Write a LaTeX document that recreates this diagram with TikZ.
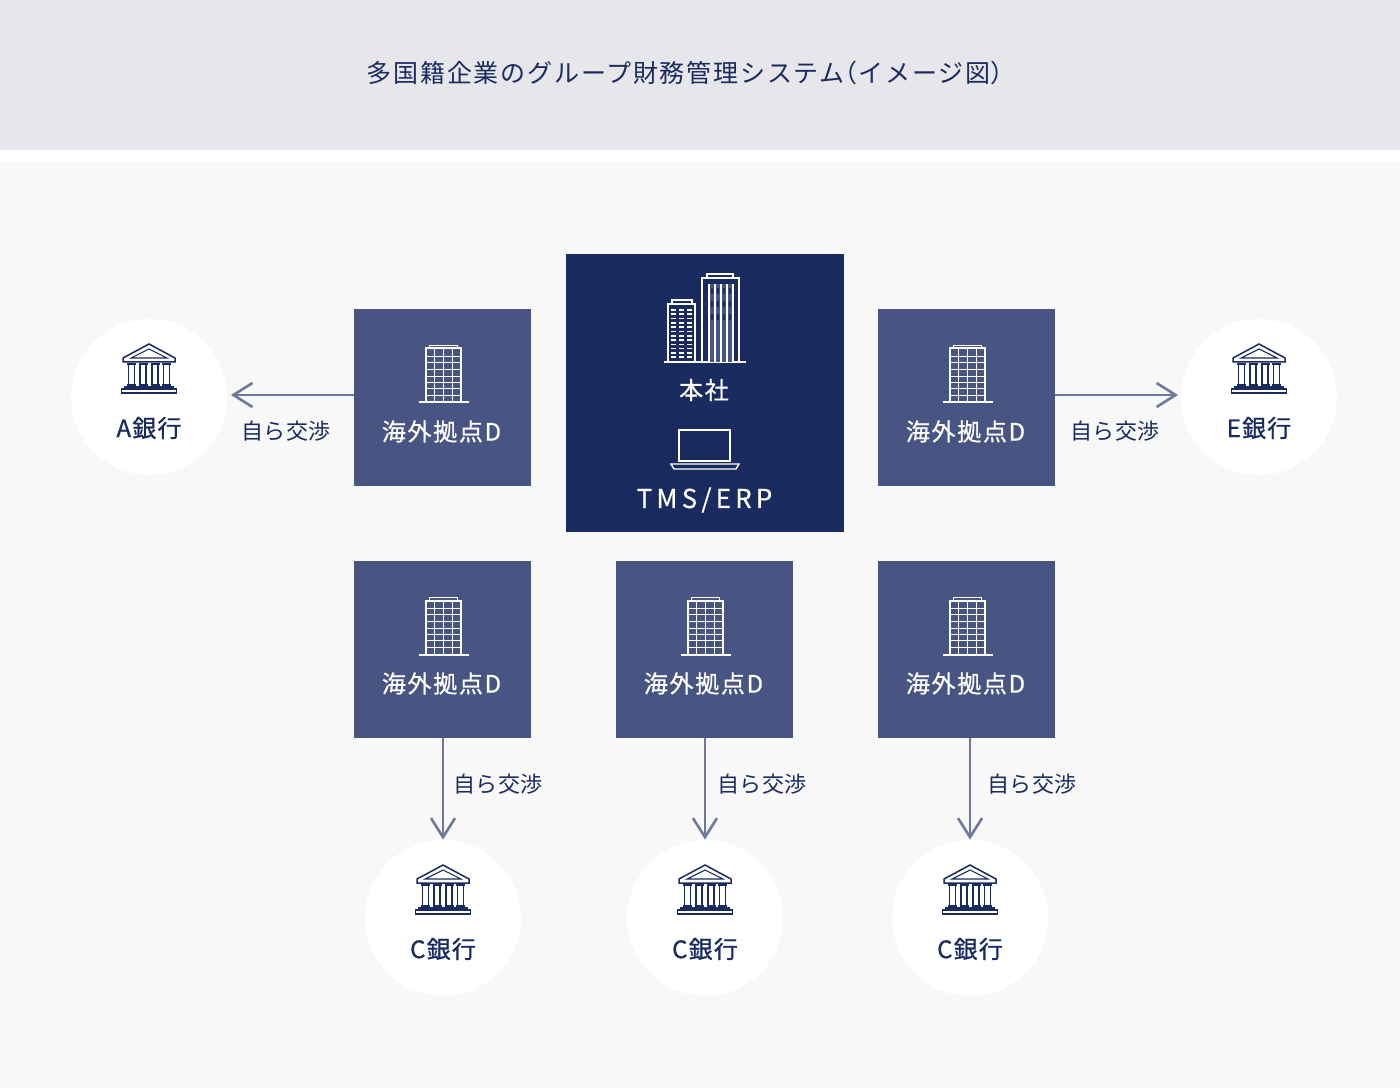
\documentclass[tikz,border=0pt]{standalone}
\usepackage{fontspec}
\setmainfont{Noto Sans CJK JP}
\usetikzlibrary{arrows.meta}
\definecolor{navy}{HTML}{1A2B60}
\definecolor{office}{HTML}{485583}
\definecolor{arrowgray}{HTML}{6F7A9A}
\definecolor{band}{HTML}{E6E6EB}
\definecolor{paper}{HTML}{F8F8F8}
\tikzset{
  officebox/.style={fill=office,minimum size=88.5pt,inner sep=0pt},
  bankdisc/.style={circle,fill=white,minimum size=78pt,inner sep=0pt},
  reachline/.style={draw=arrowgray,line width=1pt,-{Straight Barb[length=9.5pt,width=12pt,line width=1.3pt]}},
  boxlabel/.style={text=white,font=\fontsize{12}{12}\selectfont\addfontfeatures{LetterSpace=7,FakeBold=0.7}},
  banklabel/.style={text=navy,font=\fontsize{12}{12}\selectfont\addfontfeatures{LetterSpace=5,FakeBold=0.9}},
  talklabel/.style={text=navy,font=\fontsize{11}{11}\selectfont\addfontfeatures{LetterSpace=3}},
  pics/officeicon/.style={code={
    \draw[white,line width=1pt] (-25,28) -- (25,28);
    \draw[white,line width=1pt] (-17.5,28) rectangle (17.5,-26);
    \draw[white,line width=.8pt] (-14,-26) rectangle (14,-29);
    \foreach \gx in {-9,0,9} \draw[white,line width=.8pt] (\gx,-26) -- (\gx,28);
    \foreach \gy in {-18,-12,-5,2,8,14,21} \draw[white,line width=.8pt] (-17.5,\gy) -- (17.5,\gy);
  }},
  pics/bankicon/.style={code={
    \draw[navy,line width=.75pt] (-26,-11) -- (0,-25) -- (26,-11) -- (26,-7) -- (-26,-7) -- cycle;
    \draw[navy,line width=.55pt] (-18,-11) -- (0,-20) -- (18,-11) -- cycle;
    \foreach \cx in {-17.5,-6,6,17.5} {
      \draw[navy,line width=.6pt] ({\cx-3},-5) rectangle ({\cx+3},16);
      \draw[navy,line width=.7pt] ({\cx-4.5},-5) -- ({\cx+4.5},-5);
      \draw[navy,line width=.7pt] ({\cx-4.5},16) -- ({\cx+4.5},16);
    }
    \draw[navy,line width=.6pt] (-24,18) rectangle (24,20);
    \draw[navy,line width=.75pt] (-27.5,20) rectangle (27.5,24);
  }},
}
\begin{document}
\begin{tikzpicture}[x=.5pt,y=-.5pt]
  % Background
  \useasboundingbox (0,0) rectangle (1400,1090);
  \fill[white] (0,0) rectangle (1400,1090);
  \fill[band] (0,0) rectangle (1400,150);
  \fill[paper] (0,162) rectangle (1400,1088);
  \node[anchor=west,inner sep=0pt,text=navy,font=\fontsize{12.5}{12.5}\selectfont\addfontfeatures{LetterSpace=7.1}] (title) at (366.5,73) {多国籍企業のグループ財務管理システム{\addfontfeatures{RawFeature=+halt}（}\kern.6pt イメージ図\kern.4pt{\addfontfeatures{RawFeature=+halt}）}};

  % Head office
  \node[fill=navy,minimum size=139pt,inner sep=0pt] (head) at (705,393) {};
  \draw[white,line width=1pt] (664,362) -- (746,362);
  \draw[white,line width=1pt] (668,362) rectangle (695,304);
  \draw[white,line width=.8pt] (672,304) rectangle (692,300);
  \draw[white,line width=1pt] (702,362) rectangle (739,278);
  \draw[white,line width=.8pt] (707,278) rectangle (733,274);
  \fill[office] (708,284) rectangle (734,362);
  \foreach \tx in {709,715,721,727,733} \draw[white,line width=1pt] (\tx,284) -- (\tx,362);
  \foreach \gx in {712,718,724,730} {
    \foreach \gy in {288,301,314} \draw[navy,line width=1pt] (\gx,\gy) -- ++(0,6);
  }
  \foreach \ty in {310,314.3,318.6,322.9,327.2,331.5,335.8,340.1,344.4,348.7,353,357.3} \draw[white,line width=.8pt,dash pattern=on 2.7pt off 1.3pt] (671,\ty) -- (692,\ty);
  \node[text=white,font=\fontsize{12}{12}\selectfont\addfontfeatures{LetterSpace=7,FakeBold=0.7}] (headlabel) at (704,390) {本社};
  \draw[white,line width=1pt] (679,430) rectangle (730,461);
  \draw[white,line width=.7pt] (671,464) -- (739,464) -- (736,469) -- (674,469) -- cycle;
  \node[text=white,font=\fontsize{13}{13}\selectfont\addfontfeatures{LetterSpace=16,FakeBold=0.5}] (tms) at (704.5,500) {TMS/ERP};

  % Offices
  \node[officebox] (officeA) at (442.5,397.5) {};
  \node[officebox] (officeE) at (966.5,397.5) {};
  \node[officebox] (officeB) at (442.5,649.5) {};
  \node[officebox] (officeC) at (704.5,649.5) {};
  \node[officebox] (officeD) at (966.5,649.5) {};
  \foreach \o in {officeA,officeB,officeC,officeD,officeE} {
    \path (\o) ++(1,-23) pic {officeicon};
    \node[boxlabel] (\o label) at ([xshift=-.5pt,yshift=-17pt]\o) {海外拠点D};
  }

  % Banks
  \node[bankdisc] (bankA) at (149,397) {};
  \node[bankdisc] (bankE) at (1259,397) {};
  \node[bankdisc] (bankB) at (443,918) {};
  \node[bankdisc] (bankC) at (705,918) {};
  \node[bankdisc] (bankD) at (970,918) {};
  \foreach \b in {bankA,bankE,bankB,bankC,bankD} \path (\b) ++(0,-28) pic {bankicon};
  \node[banklabel] (labelA) at (149,428) {A銀行};
  \node[banklabel] (labelE) at (1259,428) {E銀行};
  \node[banklabel] (labelB) at (443,949) {C銀行};
  \node[banklabel] (labelC) at (705,949) {C銀行};
  \node[banklabel] (labelD) at (970,949) {C銀行};

  % Arrows
  \coordinate (startA) at (354,395);
  \coordinate (endA) at (231,395);
  \coordinate (startE) at (1055,395);
  \coordinate (endE) at (1178,395);
  \draw[reachline] (startA) -- (endA);
  \draw[reachline] (startE) -- (endE);
  \draw[reachline] (officeB.south -| bankB) -- (bankB.north);
  \draw[reachline] (officeC.south -| bankC) -- (bankC.north);
  \draw[reachline] (officeD.south -| bankD) -- (bankD.north);
  \node[talklabel] (talkA) at (286,431) {自ら交渉};
  \node[talklabel] (talkE) at (1115,431) {自ら交渉};
  \node[talklabel] (talkB) at (498,784) {自ら交渉};
  \node[talklabel] (talkC) at (762,784) {自ら交渉};
  \node[talklabel] (talkD) at (1032,784) {自ら交渉};
\end{tikzpicture}
\end{document}
